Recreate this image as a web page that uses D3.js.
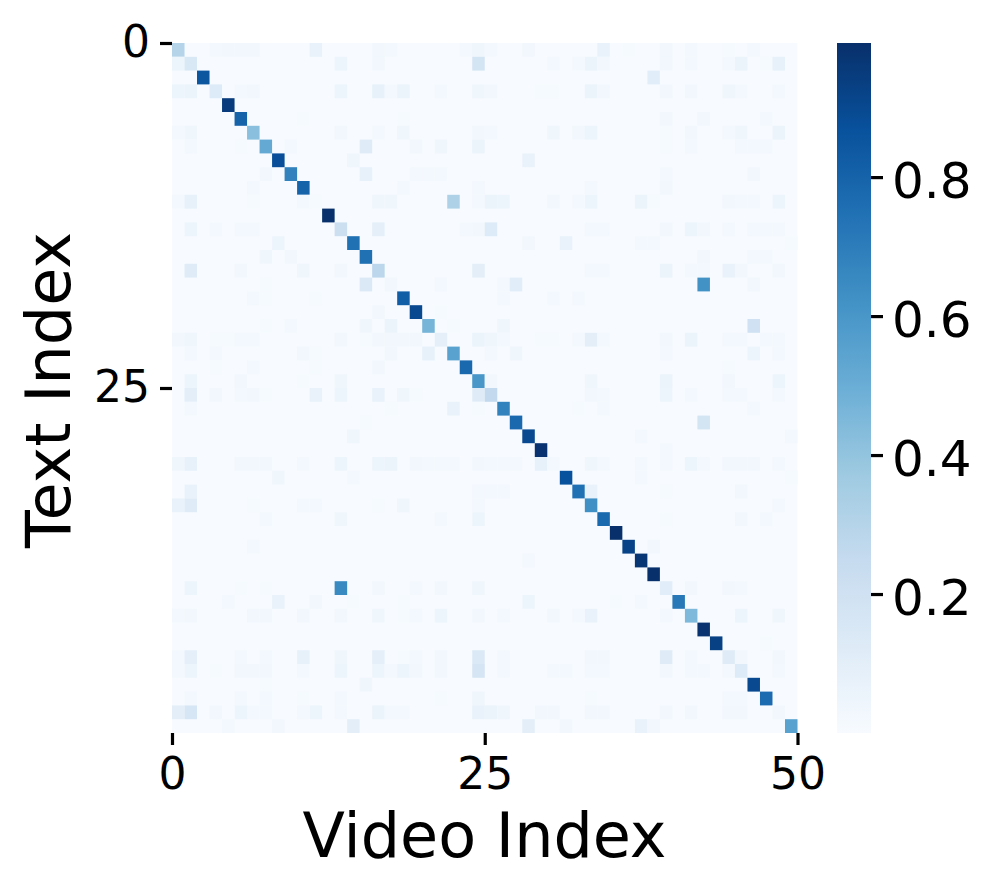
<!DOCTYPE html>
<html>
<head>
<meta charset="utf-8">
<script src="https://cdn.jsdelivr.net/npm/d3@7"></script>
<style>
  html, body { margin: 0; padding: 0; background: #fff; }
  svg { display: block; }
  text { font-family: "DejaVu Sans", sans-serif; fill: #000; }
</style>
</head>
<body>
<svg id="plot" width="995" height="893"></svg>
<script>
const cellCount = 50;
const xTicks = [0, 25, 50];
const yTicks = [0, 25];
const barTicks = [0.2, 0.4, 0.6, 0.8];
const barDomain = [0, 0.993];
const blues = ["#f7fbff", "#deebf7", "#c6dbef", "#9ecae1", "#6baed6", "#4292c6", "#2171b5", "#08519c", "#08306b"];

// value on the diagonal, one per row
const diagonal = [
  0.30, 0.15, 0.85, 0.13, 0.95, 0.80, 0.42, 0.52, 0.88, 0.68,
  0.80, 0.01, 0.99, 0.22, 0.75, 0.75, 0.28, 0.03, 0.82, 0.90,
  0.47, 0.09, 0.55, 0.78, 0.60, 0.26, 0.68, 0.78, 0.90, 0.98,
  0.02, 0.87, 0.75, 0.63, 0.78, 0.99, 0.92, 0.97, 0.99, 0.11,
  0.72, 0.45, 0.98, 0.93, 0.12, 0.13, 0.90, 0.77, 0.03, 0.55
];

// [row, column, value] for the cells away from the diagonal
const offDiagonal = [
  [0,3,.02],[0,4,.03],[0,5,.03],[0,6,.03],[0,11,.07],[0,16,.03],[0,17,.02],[0,23,.02],[0,24,.04],[0,25,.02],[0,28,.03],[0,34,.07],[0,36,.01],[0,39,.03],[0,41,.02],[0,44,.01],[0,46,.02],
  [1,0,.05],[1,13,.05],[1,16,.03],[1,24,.18],[1,30,.02],[1,32,.02],[1,33,.06],[1,34,.03],[1,39,.03],[1,41,.02],[1,44,.02],[1,45,.06],[1,47,.01],[1,48,.08],
  [2,38,.11],
  [3,0,.05],[3,1,.06],[3,5,.02],[3,6,.03],[3,13,.05],[3,16,.08],[3,17,.02],[3,18,.06],[3,21,.02],[3,24,.04],[3,25,.03],[3,29,.01],[3,30,.01],[3,33,.06],[3,34,.03],[3,39,.03],[3,41,.03],[3,44,.04],[3,45,.02],[3,48,.02],
  [5,10,.01],[5,18,.01],[5,39,.03],[5,42,.03],[5,47,.02],
  [6,0,.02],[6,1,.04],[6,13,.03],[6,16,.02],[6,18,.04],[6,24,.03],[6,25,.02],[6,30,.04],[6,32,.03],[6,33,.05],[6,39,.01],[6,41,.03],[6,44,.02],[6,45,.04],[6,48,.06],
  [7,1,.02],[7,5,.01],[7,9,.02],[7,15,.12],[7,19,.03],[7,21,.04],[7,24,.06],[7,39,.01],[7,41,.02],[7,45,.02],[7,46,.02],[7,47,.02],
  [8,14,.04],[8,28,.07],
  [9,7,.03],[9,15,.08],[9,19,.02],[9,20,.02],[9,21,.02],[9,39,.02],[9,46,.03],
  [10,6,.02],[10,18,.02],[10,24,.02],[10,33,.02],[10,39,.03],
  [11,0,.02],[11,1,.08],[11,6,.01],[11,10,.02],[11,16,.04],[11,17,.04],[11,22,.32],[11,24,.02],[11,25,.06],[11,26,.05],[11,30,.03],[11,32,.02],[11,33,.05],[11,37,.06],[11,38,.01],[11,44,.03],[11,45,.02],[11,46,.02],[11,48,.05],
  [13,1,.05],[13,3,.02],[13,5,.02],[13,6,.02],[13,16,.09],[13,23,.02],[13,24,.03],[13,25,.13],[13,33,.02],[13,34,.02],[13,39,.03],[13,41,.05],[13,42,.03],[13,44,.02],[13,46,.02],[13,47,.02],[13,48,.02],
  [14,8,.05],[14,28,.03],[14,31,.07],[14,37,.02],[14,38,.02],[14,49,.01],
  [15,7,.04],[15,9,.03],[15,42,.03],[15,46,.02],[15,47,.02],
  [16,1,.12],[16,5,.03],[16,10,.04],[16,13,.03],[16,24,.10],[16,33,.02],[16,34,.02],[16,39,.06],[16,41,.02],[16,42,.02],[16,44,.07],[16,45,.03],[16,48,.03],
  [17,7,.01],[17,15,.14],[17,21,.02],[17,26,.02],[17,27,.11],[17,42,.62],[17,46,.03],
  [18,6,.02],[18,7,.01],[18,11,.01],[18,26,.02],[18,30,.02],[18,32,.02],
  [19,16,.03],[19,21,.01],
  [20,7,.01],[20,9,.02],[20,15,.04],[20,17,.06],[20,22,.01],[20,26,.04],[20,46,.20],
  [21,0,.03],[21,1,.04],[21,3,.01],[21,4,.01],[21,5,.02],[21,6,.02],[21,13,.03],[21,15,.01],[21,16,.03],[21,17,.03],[21,18,.03],[21,19,.03],[21,24,.06],[21,25,.04],[21,26,.02],[21,29,.01],[21,30,.01],[21,32,.02],[21,33,.10],[21,34,.02],[21,39,.03],[21,41,.06],[21,44,.02],[21,45,.02],[21,47,.02],[21,48,.02],
  [22,1,.02],[22,3,.02],[22,10,.03],[22,11,.01],[22,17,.03],[22,20,.08],[22,25,.02],[22,27,.04],[22,39,.02],[22,46,.05],[22,48,.02],
  [23,3,.01],[23,6,.02],[23,11,.01],[23,16,.03],[23,44,.01],
  [24,1,.05],[24,5,.03],[24,10,.01],[24,13,.04],[24,25,.03],[24,33,.04],[24,39,.06],[24,44,.03],[24,48,.05],
  [25,1,.10],[25,3,.03],[25,5,.02],[25,6,.03],[25,7,.01],[25,11,.07],[25,13,.05],[25,16,.07],[25,18,.04],[25,19,.01],[25,24,.12],[25,33,.03],[25,34,.02],[25,39,.05],[25,41,.02],[25,44,.02],[25,45,.02],[25,48,.02],
  [26,1,.02],[26,17,.01],[26,22,.07],[26,24,.01],[26,32,.01],[26,34,.02],[26,46,.02],
  [27,15,.01],[27,42,.18],
  [28,14,.04],[28,37,.02],[28,49,.02],
  [29,39,.02],
  [30,0,.04],[30,1,.08],[30,5,.03],[30,6,.03],[30,7,.03],[30,10,.02],[30,13,.05],[30,16,.05],[30,17,.06],[30,19,.03],[30,20,.02],[30,21,.02],[30,22,.02],[30,24,.03],[30,25,.02],[30,26,.02],[30,27,.02],[30,29,.08],[30,33,.04],[30,34,.02],[30,37,.02],[30,39,.02],[30,41,.05],[30,42,.02],[30,44,.03],[30,45,.03],[30,46,.03],[30,48,.02],
  [31,8,.04],[31,14,.02],[31,37,.02],[31,49,.01],
  [32,1,.07],[32,24,.02],[32,25,.02],[32,26,.02],[32,33,.07],[32,39,.01],[32,45,.03],
  [33,0,.07],[33,1,.12],[33,6,.01],[33,10,.02],[33,11,.02],[33,16,.01],[33,18,.04],[33,24,.02],[33,48,.02],
  [34,7,.02],[34,13,.04],[34,21,.02],[34,24,.05],[34,39,.01],[34,45,.03],[34,47,.02],
  [36,6,.02],[36,38,.03],
  [37,28,.02],
  [39,1,.05],[39,5,.01],[39,7,.01],[39,13,.65],[39,16,.03],[39,19,.02],[39,21,.03],[39,24,.04],[39,41,.03],[39,44,.03],[39,45,.02],
  [40,4,.02],[40,8,.07],[40,11,.03],[40,14,.01],[40,18,.01],[40,28,.05],[40,35,.01],[40,37,.02],
  [41,0,.02],[41,1,.03],[41,6,.03],[41,7,.03],[41,10,.03],[41,13,.03],[41,16,.04],[41,18,.01],[41,19,.02],[41,21,.05],[41,24,.03],[41,26,.02],[41,30,.03],[41,32,.02],[41,33,.07],[41,39,.02],[41,45,.05],[41,48,.04],
  [43,47,.01],
  [44,0,.02],[44,1,.09],[44,5,.02],[44,7,.02],[44,10,.08],[44,13,.04],[44,16,.09],[44,18,.01],[44,19,.02],[44,21,.03],[44,24,.14],[44,26,.02],[44,33,.03],[44,34,.03],[44,39,.12],[44,41,.02],[44,45,.03],[44,48,.03],
  [45,0,.02],[45,1,.05],[45,3,.01],[45,5,.03],[45,6,.03],[45,7,.03],[45,10,.02],[45,13,.05],[45,16,.05],[45,17,.02],[45,18,.05],[45,19,.03],[45,21,.03],[45,24,.17],[45,26,.02],[45,30,.02],[45,31,.02],[45,33,.02],[45,34,.02],[45,39,.03],[45,41,.02],[45,42,.02],[45,44,.02],[45,48,.02],
  [46,7,.01],[46,15,.04],
  [47,1,.02],[47,5,.02],[47,7,.02],[47,10,.01],[47,13,.02],[47,21,.01],[47,24,.04],[47,33,.01],[47,44,.02],[47,45,.02],
  [48,0,.10],[48,1,.16],[48,3,.03],[48,5,.05],[48,6,.02],[48,7,.02],[48,10,.02],[48,11,.05],[48,13,.02],[48,16,.06],[48,17,.02],[48,18,.02],[48,24,.07],[48,25,.06],[48,26,.04],[48,29,.03],[48,30,.03],[48,33,.03],[48,34,.03],[48,39,.03],[48,41,.03],[48,44,.03],[48,45,.03],
  [49,4,.02],[49,8,.03],[49,14,.10],[49,28,.10],[49,31,.03],[49,37,.07],[49,38,.03]
];

function render() {
  const svg = d3.select("#plot");

  const plot = { left: 172, right: 797.5, top: 43, bottom: 733 };
  const bar = { left: 837, right: 871, top: 43, bottom: 733 };

  // Scales
  const x = d3.scaleLinear().domain([0, cellCount]).range([plot.left, plot.right]);
  const y = d3.scaleLinear().domain([0, cellCount]).range([plot.top, plot.bottom]);
  const barY = d3.scaleLinear().domain(barDomain).range([bar.bottom, bar.top]);
  const color = d3.scaleLinear()
    .domain(blues.map((c, i) => barDomain[0] + (barDomain[1] - barDomain[0]) * i / (blues.length - 1)))
    .range(blues)
    .interpolate(d3.interpolateRgb)
    .clamp(true);

  // Build the full matrix
  const cells = [];
  const byKey = new Map(offDiagonal.map(d => [d[0] * cellCount + d[1], d[2]]));
  d3.range(cellCount).forEach(row => {
    d3.range(cellCount).forEach(col => {
      const v = row === col ? diagonal[row] : (byKey.get(row * cellCount + col) || 0);
      cells.push({ row, col, v });
    });
  });

  // Heatmap
  svg.append("rect")
    .attr("x", plot.left).attr("y", plot.top)
    .attr("width", plot.right - plot.left).attr("height", plot.bottom - plot.top)
    .attr("fill", color(0));

  svg.append("g").selectAll("rect")
    .data(cells.filter(d => d.v > 0))
    .enter()
    .append("rect")
    .attr("x", d => x(d.col))
    .attr("y", d => y(d.row))
    .attr("width", x(1) - x(0))
    .attr("height", y(1) - y(0))
    .attr("fill", d => color(d.v));

  // Axes
  const tickStyle = (g, size, dy) => {
    g.select(".domain").remove();
    g.selectAll(".tick line").attr("stroke", "#000").attr("stroke-width", 3.2);
    g.selectAll(".tick text").attr("font-size", size).attr("font-family", "DejaVu Sans");
    if (dy) g.selectAll(".tick text").attr("dy", dy);
  };

  svg.append("g")
    .attr("transform", `translate(0,${plot.bottom})`)
    .call(d3.axisBottom(x).tickValues(xTicks).tickFormat(d3.format("d")).tickSize(12).tickPadding(13))
    .call(tickStyle, 44);

  svg.append("g")
    .attr("transform", `translate(${plot.left},0)`)
    .call(d3.axisLeft(y).tickValues(yTicks).tickFormat(d3.format("d")).tickSize(12).tickPadding(10))
    .call(tickStyle, 44, "0.3em");

  // Colorbar
  const gradient = svg.append("defs").append("linearGradient")
    .attr("id", "bar-gradient")
    .attr("x1", 0).attr("y1", 1).attr("x2", 0).attr("y2", 0);
  gradient.selectAll("stop")
    .data(blues)
    .enter()
    .append("stop")
    .attr("offset", (d, i) => i / (blues.length - 1))
    .attr("stop-color", d => d);

  svg.append("rect")
    .attr("x", bar.left).attr("y", bar.top)
    .attr("width", bar.right - bar.left).attr("height", bar.bottom - bar.top)
    .attr("fill", "url(#bar-gradient)");

  svg.append("g")
    .attr("transform", `translate(${bar.right},0)`)
    .call(d3.axisRight(barY).tickValues(barTicks).tickFormat(d3.format(".1f")).tickSize(12).tickPadding(9))
    .call(tickStyle, 50, "0.4em");

  // Axis titles
  svg.append("text")
    .attr("x", 484.5)
    .attr("y", 857)
    .attr("text-anchor", "middle")
    .attr("font-size", 62)
    .text("Video Index");

  svg.append("text")
    .attr("transform", "translate(69.5,390) rotate(-90)")
    .attr("text-anchor", "middle")
    .attr("font-size", 62)
    .text("Text Index");
}

render();
</script>
</body>
</html>
